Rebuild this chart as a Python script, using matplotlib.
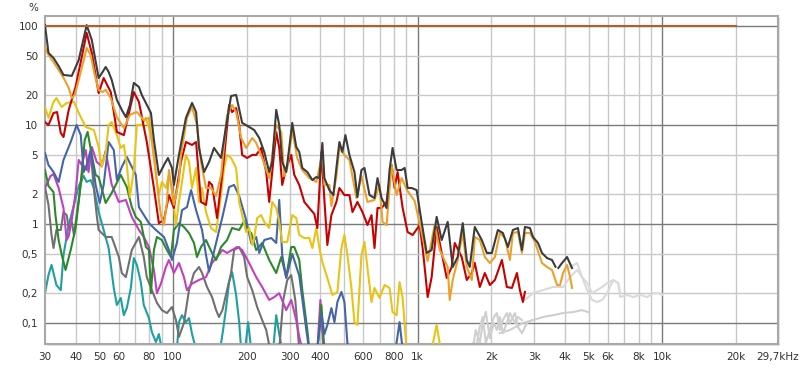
import numpy as np
import matplotlib
matplotlib.use("Agg")
import matplotlib.pyplot as plt
from matplotlib.ticker import NullLocator
from matplotlib.patches import Rectangle

nan = np.nan

# fundamental level
FUND_F = [30, 20000]
FUND_V = [100, 100]

# THD (dark gray)
THD_F = [30, 31, 32.5, 34.1, 35.7, 38.6, 41.2, 43.2, 44.4, 46.6, 49.7, 51.6, 53.1, 54.6, 56.2, 59, 61.8, 64.2, 66.7, 69.2,
         72.6, 74.6, 77.5, 81.3, 83.6, 87.6, 91.9, 95.4, 99.1, 100.9, 105.8, 113, 119.7, 124.3, 127.8, 134, 140.5, 147.2,
         157.3, 166.4, 172.8, 181.2, 191.8, 204.8, 214.8, 225.2, 236.1, 247.4, 254.5, 264.3, 271.9, 279.7, 290.4, 298.7,
         307.3, 319.1, 328.3, 337.7, 354.1, 371.3, 385.6, 396.6, 408, 415.8, 435.8, 452.6, 465.6, 478.9, 492.7, 506.8,
         526.3, 551.8, 567.5, 589.3, 606.3, 635.7, 666.5, 685.6, 711.9, 746.4, 767.9, 789.9, 820.3, 860.2, 884.9, 910,
         945, 990.6, 1038, 1089, 1141, 1196, 1254, 1327, 1391, 1458, 1529, 1588, 1633, 1712, 1829, 1918, 2011, 2128,
         2230, 2338, 2451, 2570, 2668, 2745, 2877, 2961, 3104, 3222, 3379, 3542, 3660, nan, 3760, 3892, 4080, 4277]
THD_V = [102, 53.4, 47.5, 39.4, 32, 31.3, 45.3, 75.7, 102, 72.2, 29.8, 34.3, 38.5, 34.3, 28.5, 17.9, 14.2, 12, 15.9, 26.6,
         24.2, 20.1, 16.7, 13.2, 7.06, 3.13, 3.94, 4.64, 3.68, 2.48, 4.98, 11.8, 16.7, 13.5, 5.86, 3.35, 4.23, 5.86,
         4.64, 11.2, 19.6, 20.1, 10.5, 9.55, 8.9, 7.4, 5.34, 3.35, 4.23, 14.2, 10, 4.23, 3.35, 5.86,
         10.5, 6.0, 5.34, 3.68, 3.35, 2.78, 2.98, 2.91, 6.58, 2.91, 2.2, 1.96, 3.68, 6.73, 5.34, 7.9,
         4.98, 3.35, 1.87, 3.51, 3.68, 1.96, 1.83, 2.91, 1.83, 1.45, 3.51, 5.86, 3.51, 3.51, 3.68, 2.31,
         2.31, 2.2, 1.05, 0.51, 0.546, 1.18, 0.689, 1.05, 0.368, 0.464, 1.02, 0.433, 0.368, 0.933, 0.689, 0.51, 0.51, 0.87,
         0.811, 0.586, 0.87, 0.911, 0.546, 0.933, 0.911, 0.739, 0.643, 0.51, 0.453, 0.433, 0.37, nan, 0.36, 0.404, 0.464, 0.359]

# H2 (orange)
H2_F = [30, 31, 32.5, 34.1, 35.7, 37.5, 38.6, 39.7, 41.2, 43.2, 44.4, 46.1, 47.9, 49.7, 51.6, 53.1, 55.7, 59, 63, 66.7,
        69.2, 71.2, 76, 79.8, 83.6, 87.6, 89.3, 91.9, 94.5, 96.3, 100.9, 105.8, 107.8, 114.1, 119.7, 125.4, 130.2, 136.5,
        143.1, 150.1, 157.3, 166.4, 174.5, 181.2, 190, 199.1, 210.8, 218.9, 231.6, 247.4, 264.3, 277.1, 285.1, 293.2,
        307.3, 322.1, 337.7, 360.8, 385.6, 408, 415.8, 435.8, 444.2, 465.6, 478.9, 502.1, 526.3, 562.3, 589.3, 623.8,
        666.5, 698.6, 718.7, 746.4, 782.6, 820.3, 860.2, 910, 972, 1038, 1099, 1174, 1231, 1327, 1352, 1391, 1458, 1529,
        1588, 1665, 1712, 1795, 1882, 1973, 2069, 2168, 2273, 2383, 2451, 2570, 2668, 2745, 2877, 3016, 3222, 3379,
        3542, 3713, 3819, 3930, 4080, 4198, 4277]
H2_V = [61.4, 50.9, 43.3, 35.9, 30, 23.7, 18.7, 20.1, 28.5, 45.3, 60, 50.9, 32, 22.6, 21.5, 22.6, 18.7, 12, 9.33, 12.6,
        13.2, 13.5, 11.2, 11.8, 4.98, 1.75, 1.23, 0.977, 1.67, 3.51, 1.56, 2.72, 4.98, 11.8, 15.2, 10, 4.23, 2.31,
        2.31, 1.92, 3.13, 12.6, 15.9, 13.5, 7.4, 5.86, 7.4, 6.58, 4.64, 2.91, 10, 8.5, 3.05, 3.68,
        8.9, 4.64, 3.51, 2.91, 2.66, 5.0, 2.48, 2.48, 1.52, 3.05, 5.86, 4.98, 4.43, 1.83, 3.05, 1.67,
        1.75, 2.48, 1.05, 0.977, 3.94, 1.96, 2.91, 2.15, 1.71, 0.83, 0.423, 0.977, 0.546, 0.368, 0.171, 0.272, 0.433, 0.811,
        0.368, 0.272, 0.739, 0.689, 0.464, 0.404, 0.464, 0.811, 0.722, 0.433, 0.811, 0.83, 0.51, 0.811, 0.811, 0.658, 0.404, 0.368,
        0.343, 0.242, 0.242, 0.32, 0.386, 0.291, 0.226]

# H3 (red)
H3_F = [30, 31, 32.5, 33.6, 34.8, 35.7, 37.5, 40, 42.4, 44.4, 46.6, 49.7, 52.1, 55.7, 59, 63, 69.2, 72.6, 78.2, 83.6,
        87.6, 91.9, 96.3, 100.9, 107.8, 113, 119.7, 124.3, 130.2, 136.5, 140.5, 144.5, 151.5, 161.8, 169.6, 174.5, 181.2,
        186.5, 191.8, 201, 210.8, 218.9, 229.4, 240.5, 247.4, 254.5, 264.3, 271.9, 279.7, 290.4, 304.4, 313.3, 328.3,
        344.2, 360.8, 378.4, 389.2, 404.3, 415.8, 427.6, 444.2, 465.6, 478.9, 502.1, 526.3, 541.6, 567.5, 595, 623.8,
        647.9, 666.5, 685.6, 711.9, 746.4, 782.6, 805, 827.9, 868.4, 910, 954, 1000, 1019, 1048, 1068, 1099, 1141, 1196,
        1254, 1315, 1378, 1418, 1514, 1588, 1665, 1712, 1795, 1882, 1973, 2069, 2210, 2316, 2428, 2546, 2618, 2693, 2745]
H3_V = [10.7, 10, 13.2, 13.5, 8.3, 7.56, 14.2, 24.2, 48.6, 85, 53.4, 21, 29.8, 21.5, 8.5, 7.9, 21.5, 17.1, 6.73, 2.31,
        1.02, 1.1, 1.96, 1.45, 4.23, 6.73, 6.28, 6.73, 1.67, 1.56, 2.66, 2.48, 1.15, 4.64, 15.9, 13.5, 14.8,
        10, 4.98, 4.64, 4.98, 4.98, 5.86, 3.35, 1.67, 3.35, 8.5, 5.86, 2.48, 3.68, 4.98, 3.13, 2.48,
        1.67, 1.45, 1.26, 0.911, 5.34, 1.75, 0.614, 1.23, 1.67, 2.31, 1.96, 1.96, 1.32, 1.67, 1.32, 0.977,
        1.23, 0.572, 1.45, 1.45, 1.67, 3.94, 2.31, 3.35, 1.45, 0.83, 0.774, 0.911, 0.977, 0.572, 0.368, 0.183, 0.291, 0.933,
        0.51, 0.285, 0.368, 0.643, 0.464, 0.272, 0.32, 0.404, 0.231, 0.32, 0.242, 0.272, 0.433, 0.231, 0.226, 0.32, 0.215, 0.163, 0.206]

# H4 (yellow)
H4_F = [30, 31, 32.5, 33.4, 35.1, 36.8, 39.4, 41.2, 44, 47.5, 49.7, 51.2, 53.1, 54.6, 56.2, 59, 61.2, 63, 64.8, 66.7,
        69.2, 71.2, 74.6, 77.5, 79.8, 82, 85.2, 87.6, 90.1, 93.6, 96.3, 99.1, 102.9, 105.8, 108.9, 113, 116.3, 119.7,
        124.3, 127.8, 131.5, 136.5, 143.1, 150.1, 157.3, 161.8, 166.4, 172.8, 181.2, 186.5, 191.8, 199.1, 204.8, 210.8,
        214.8, 220.9, 229.4, 236.1, 247.4, 254.5, 264.3, 271.9, 279.7, 293.2, 307.3, 319.1, 328.3, 344.2, 360.8, 371.3,
        385.6, 396.6, 408, 427.6, 448.4, 470, 488.1, 502.1, 516.4, 536.3, 551.8, 567.5, 589.3, 606.3, 623.8, 647.9,
        666.5, 698.6, 732.5, 767.9, 789.9, 820.3, 843.6, 868.4, 901.4, nan, 1141, 1196, 1243]
H4_V = [15.2, 11.8, 17.1, 18.7, 15.2, 16.7, 17.1, 13.2, 9.55, 8.9, 6.0, 3.77, 5.21, 10, 10.7, 7.9, 5.86, 6.28, 3.94, 1.87,
        3.51, 10, 10, 11.8, 9.33, 6.73, 3.13, 1.96, 2.66, 2.31, 3.13, 2.31, 0.977, 1.67, 2.66, 4.98, 4.23, 2.31,
        3.68, 1.67, 2.31, 1.32, 0.911, 0.83, 1.96, 3.68, 4.98, 4.64, 3.68, 1.67, 1.23, 0.83, 0.911, 0.614,
        0.722, 1.15, 1.23, 1.05, 0.911, 1.67, 1.45, 1.05, 0.658, 0.658, 1.23, 1.15, 0.774, 0.722, 0.722, 0.572,
        0.911, 0.572, 0.413, 0.285, 0.192, 0.206, 0.572, 0.774, 0.486, 0.226, 0.102, 0.0955, 0.486, 0.658, 0.359, 0.163,
        0.226, 0.179, 0.242, 0.226, 0.129, 0.12, 0.259, 0.179, 0.054, nan, 0.054, 0.0955, 0.054]

# H5 (blue)
H5_F = [30, 31, 32.5, 34.1, 35.7, 38.2, 40.4, 42, 43.2, 44.4, 46.1, 48.3, 50.2, 52.1, 54.6, 57.3, 59, 61.8, 64.8, 67.9,
        70.5, 72.6, 79.8, 85.2, 91.9, 96.3, 99.1, 103.8, 108.9, 114.1, 118.6, 124.3, 131.5, 136.5, 140.5, 150.1, 159.3,
        169.6, 177.8, 186.5, 199.1, 208.8, 218.9, 225.2, 236.1, 252.2, 264.3, 271.9, 279.7, 290.4, 307.3, 328.3, 350.8,
        360, nan, 389.2, 404.3, 415.8, 427.6, 444.2, 457.1, 470, 488.1, 502.1, 516.4, 526.3, nan, 812.6, 843.6, 868.4]
H5_V = [5.21, 3.94, 3.35, 2.66, 4.43, 6.73, 10, 7.9, 3.35, 3.94, 5.59, 2.48, 1.63, 2.48, 6.73, 5.59, 2.78, 3.77, 4.75, 3.77,
        3.13, 1.48, 1.02, 0.87, 0.739, 0.546, 0.433, 0.643, 1.38, 1.48, 2.2, 1.38, 0.87, 0.486, 0.33, 0.643, 1.18,
        2.36, 2.48, 1.92, 1.1, 0.643, 0.739, 0.51, 0.689, 0.722, 0.643, 1.75, 0.486, 0.285, 0.5, 0.3, 0.085,
        0.054, nan, 0.054, 0.126, 0.077, 0.0955, 0.1417, 0.102, 0.163, 0.206, 0.163, 0.0628, 0.054, nan, 0.054, 0.102, 0.054]

# H6 (green)
H6_F = [30, 31, 32.5, 33.1, 34.1, 35.1, 36.4, 38.2, 40, 41.2, 42.4, 43.6, 44.8, 46.6, 48.3, 49.7, 53.1, 56.2, 61.2, 64.8,
        67.9, 70.5, 73.9, 77.5, 79.8, 81.3, 83.6, 86, 90.1, 94.5, 98.1, 100.9, 105.8, 110.9, 116.3, 121.9, 125.4, 130.2,
        136.5, 144.5, 150.1, 157.3, 166.4, 174.5, 186.5, 195.4, 201, 208.8, 218.9, 231.6, 247.4, 264.3, 277.1, 290.4,
        304.4, 313.3, 328.3, 337.7, 354.1, 360.8, nan, 389.2, 404.3, 415.8]
H6_V = [3.51, 2.42, 2.1, 1.23, 0.689, 0.49, 0.343, 0.546, 0.911, 1.67, 3.35, 7.06, 8.5, 4.98, 3.13, 2.98, 1.63, 2.06, 3.13, 2.36,
        1.48, 1.18, 1.05, 0.586, 0.546, 0.2, 0.546, 0.739, 0.689, 0.546, 0.464, 0.87, 1.02, 0.933, 0.811, 0.643, 0.464, 0.586,
        0.689, 0.51, 0.433, 0.586, 0.689, 0.911, 0.87, 1.07, 0.87, 0.811, 0.546, 0.643, 0.433, 0.32, 0.464, 0.291,
        0.586, 0.586, 0.433, 0.215, 0.085, 0.054, nan, 0.054, 0.152, 0.054]

# H7 (magenta)
H7_F = [30, 31.6, 32.5, 34.1, 35.7, 36.8, 37.5, 38.6, 40, 41.2, 42.4, 44, 45.2, 46.6, 48.8, 51.2, 53.1, 56.2, 60.1, 64.2,
        67.9, 72.6, 76, 79.8, 83.6, 86, 89.3, 93.6, 96.3, 100.9, 105.8, 110.9, 114.1, 119.7, 127.8, 136.5, 144.5, 151.5,
        159.3, 166.4, 174.5, 182.9, 191.8, 204.8, 218.9, 231.6, 247.4, 259.5, 271.9, 290.4, 304.4, 319.1, 328.3, 337.7,
        nan, 389.2, 400.5, 411.9]
H7_V = [2.31, 3.05, 3.2, 2.31, 1.45, 0.689, 0.757, 1.1, 2.06, 4.43, 3.94, 5.59, 3.35, 6.0, 4.23, 3.85, 5.5, 2.5, 1.67, 1.75,
        1.18, 0.87, 0.739, 0.586, 0.343, 0.2, 0.25, 0.368, 0.433, 0.32, 0.404, 0.291, 0.215, 0.25, 0.272, 0.291, 0.404, 0.464,
        0.546, 0.51, 0.546, 0.586, 0.546, 0.404, 0.291, 0.231, 0.171, 0.183, 0.2, 0.135, 0.171, 0.107, 0.0723, 0.054,
        nan, 0.054, 0.171, 0.054]

# H8 (gray)
H8_F = [30, 31, 31.9, 32.5, 33.4, 34.8, 35.7, 36.8, 37.5, 38.6, 39.4, 40.4, 42, 43.2, 44.4, 46.1, 47.5, 48.8, 49.7, 53.1,
        56.2, 60.1, 61.8, 64.2, 67.9, 72.6, 76, 78.2, 82, 86, 90.1, 94.5, 99.1, 102.9, 105.8, 110.9, 116.3, 121.9, 127.8,
        131.5, 137.8, 144.5, 150.1, 154.2, 159.3, 166.4, 172.8, 177.8, 186.5, 195.4, 201, 210.8, 220.9, 231.6, 240.5,
        247.4, nan, 271.9, 282.4, 293.2, 304.4, 316.2, 328.3]
H8_V = [2.36, 1.56, 0.774, 0.572, 0.87, 0.87, 1.32, 1.23, 0.911, 1.05, 0.774, 1.23, 2.48, 3.85, 3.51, 5.34, 2.31, 1.23, 0.87, 0.739,
        0.739, 0.464, 0.32, 0.291, 0.546, 0.739, 0.464, 0.291, 0.215, 0.16, 0.135, 0.126, 0.145, 0.107, 0.0723, 0.1, 0.215, 0.32, 0.368,
        0.32, 0.231, 0.183, 0.135, 0.115, 0.135, 0.215, 0.32, 0.546, 0.586, 0.464, 0.291, 0.215, 0.145, 0.107, 0.085,
        0.06, nan, 0.054, 0.171, 0.272, 0.305, 0.171, 0.054]

# H9 (teal)
H9_F = [30, 31, 31.9, 33.4, 34.8, 35.7, 37.5, 39.4, 41.2, 43.2, 44.4, 46.1, 47.5, 49.7, 52.1, 54.6, 57.3, 59, 61.2, 63,
        64.8, 67.3, 69.2, 71.2, 73.9, 76, 79.8, 82, 85.2, 87.6, 90.1, nan, 103.8, 105.8, 108.9, 113, 116.3, 119.7, 124.3,
        nan, 155.8, 160.3, 164.9, 169.6, 174.5, 181.2, 186.5, 190, nan, 197.2, 202.9, 208.8, nan, 256.9, 264.3, 271.9, 279.7]
H9_V = [0.2, 0.305, 0.386, 0.242, 0.215, 0.486, 0.977, 1.56, 2.42, 3.05, 2.66, 2.78, 2.31, 1.32, 0.87, 0.572, 0.226, 0.152, 0.179, 0.12,
        0.142, 0.226, 0.453, 0.386, 0.259, 0.152, 0.112, 0.081, 0.0643, 0.0774, 0.054, nan, 0.054, 0.102, 0.12, 0.102, 0.112, 0.0774, 0.054,
        nan, 0.054, 0.085, 0.142, 0.259, 0.327, 0.192, 0.102, 0.054, nan, 0.054, 0.102, 0.054, nan, 0.054, 0.12, 0.077, 0.054]

# faint traces at high frequencies
NA_F = [2745, 2961, 3254, 3575, 3930, 4198, 4484, 4700, 4928, 5166, 5415, 5677, 5951, 6298, 6602, 6728, 7188, 7604, 8123, 8680, 9186, 9630, 10000]
NA_V = [0.171, 0.2, 0.215, 0.231, 0.231, 0.291, 0.343, 0.291, 0.2535, 0.2, 0.215, 0.231, 0.2535, 0.272, 0.2535, 0.183, 0.192, 0.183, 0.192, 0.183, 0.2, 0.2, 0.192]
NB_F = [4198, 4484, 4700, 4928, 5166, 5415, 5677, 5951, 6298, 6602, 6728]
NB_V = [0.368, 0.404, 0.291, 0.215, 0.171, 0.163, 0.171, 0.2, 0.272, 0.2535, 0.2]
NC_F = [2168, 2383, 2693, 2961, 3254, 3575, 3930, 4318, 4700, 4975]
NC_V = [0.079, 0.085, 0.1, 0.107, 0.115, 0.12, 0.126, 0.129, 0.135, 0.129]
ND_F = [1633, 1680, 1728, 1795, 1846, 1899, 1973, 2049, 2108, 2168, 2230, 2316, 2383, 2498, 2570, 2668, 2798, 2932]
ND_V = [0.054, 0.0628, 0.054, 0.0911, 0.115, 0.063, 0.085, 0.115, 0.126, 0.085, 0.107, 0.126, 0.1, 0.126, 0.0911, 0.079, 0.1, 0.107]
NE_F = [1680, 1728, 1795, 1846, 1899, 1973, 2049, 2108, 2168, 2230, 2316, 2383, 2498, 2570, 2668]
NE_V = [0.054, 0.085, 0.063, 0.1, 0.13, 0.07, 0.1, 0.085, 0.115, 0.079, 0.1, 0.126, 0.1, 0.115, 0.107]

XTICKS = [30, 40, 50, 60, 80, 100, 200, 300, 400, 600, 800, 1000, 2000, 3000, 4000, 5000, 6000, 8000, 10000, 20000, 29700]
XLABELS = ["30", "40", "50", "60", "80", "100", "200", "300", "400", "600", "800", "1k", "2k", "3k", "4k", "5k", "6k",
           "8k", "10k", "20k", "29,7kHz"]
YTICKS = [0.1, 0.2, 0.5, 1, 2, 5, 10, 20, 50, 100]
YLABELS = ["0,1", "0,2", "0,5", "1", "2", "5", "10", "20", "50", "100"]

W, H = 800, 369
fig = plt.figure(figsize=(W / 100, H / 100), dpi=100)
fig.patch.set_facecolor("white")
x0, x1, ytop, ybot = 45, 778, 16, 344
ax = fig.add_axes([x0 / W, (H - ybot) / H, (x1 - x0) / W, (ybot - ytop) / H])
ax.set_xscale("log")
ax.set_yscale("log")
ax.set_xlim(30, 29700)
ax.set_ylim(0.0614, 126)

# soft shadow of the frame
fig.patches.append(Rectangle(((x0 + 2) / W, (H - ybot - 2) / H), (x1 - x0) / W, (ybot - ytop) / H,
                             transform=fig.transFigure, facecolor="#e4e4e4", edgecolor="none", zorder=-5))
ax.set_facecolor("white")

minor_x = [40, 50, 60, 70, 80, 90, 200, 300, 400, 500, 600, 700, 800, 900,
           2000, 3000, 4000, 5000, 6000, 7000, 8000, 9000, 20000]
for f in minor_x:
    ax.axvline(f, color="#c8c8c8", lw=1.0, zorder=0)
for f in [100, 1000, 10000]:
    ax.axvline(f, color="#7a7a7a", lw=1.0, zorder=0)
for v in [0.2, 0.5, 2, 5, 20, 50]:
    ax.axhline(v, color="#c8c8c8", lw=1.0, zorder=0)
for v in [0.1, 1, 10, 100]:
    ax.axhline(v, color="#7a7a7a", lw=1.0, zorder=0)

lw = 1.5
for fx, vx in [(NC_F, NC_V), (ND_F, ND_V), (NE_F, NE_V)]:
    ax.plot(fx, vx, color="#cfcfcf", lw=lw, zorder=1)
for fx, vx in [(NA_F, NA_V), (NB_F, NB_V)]:
    ax.plot(fx, vx, color="#dadada", lw=lw, zorder=1)

series = [
    (H9_F, H9_V, "#1fa0a0"),
    (H8_F, H8_V, "#707070"),
    (H7_F, H7_V, "#c040c0"),
    (H6_F, H6_V, "#2a8a2a"),
    (H5_F, H5_V, "#4565a8"),
    (H4_F, H4_V, "#e8c414"),
    (H3_F, H3_V, "#c80000"),
    (H2_F, H2_V, "#eba12a"),
    (THD_F, THD_V, "#3c3c3c"),
]
for i, (fx, vx, c) in enumerate(series):
    ax.plot(fx, vx, color=c, lw=lw, zorder=2 + i, solid_joinstyle="round")
ax.plot(FUND_F, FUND_V, color="#b0602a", lw=lw, zorder=20)

for s in ax.spines.values():
    s.set_color("#a8a8a8")
    s.set_linewidth(1.5)

ax.xaxis.set_minor_locator(NullLocator())
ax.yaxis.set_minor_locator(NullLocator())
ax.set_xticks(XTICKS, XLABELS)
ax.set_yticks(YTICKS, YLABELS)
ax.tick_params(axis="both", length=0, labelsize=7.5, colors="#303030")
ax.tick_params(axis="x", pad=6)
ax.tick_params(axis="y", pad=5)
fig.text(33 / W, 1 - 8 / H, "%", ha="center", va="center", fontsize=7.5, color="#303030")

fig.savefig("out.png", dpi=100)
